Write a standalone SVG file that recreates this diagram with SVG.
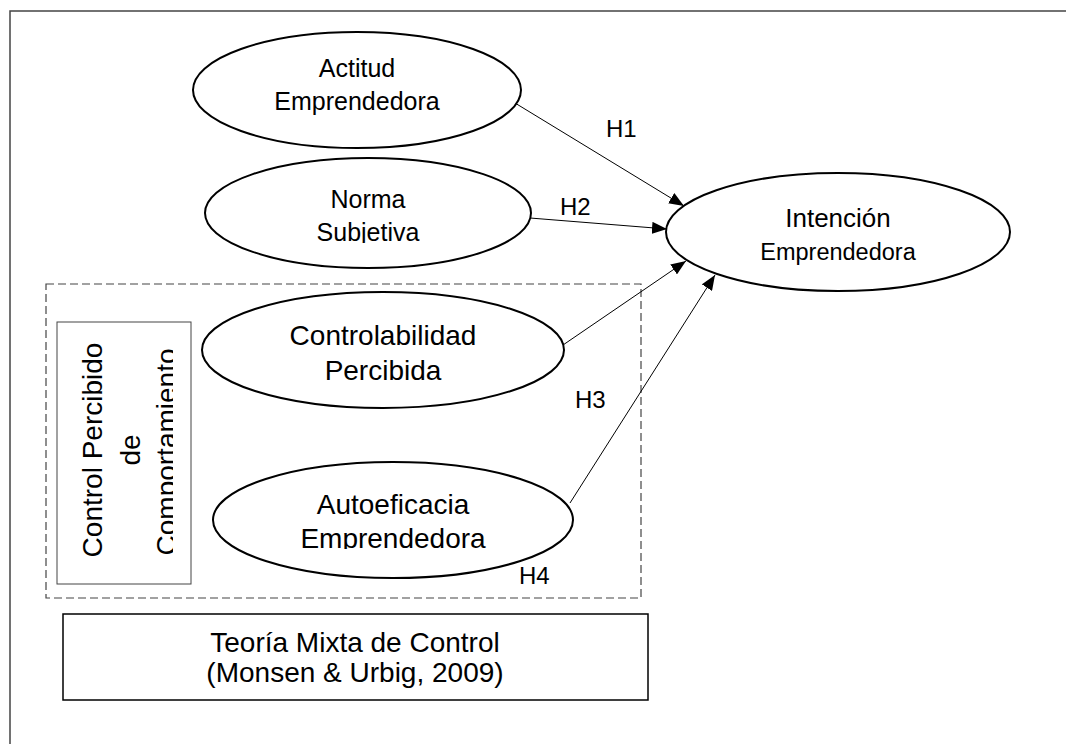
<svg xmlns="http://www.w3.org/2000/svg" width="1066" height="744" viewBox="0 0 1066 744">
<style>
text{font-family:"Liberation Sans",Arial,sans-serif;fill:#000;text-anchor:middle}
.el{fill:#fff;stroke:#000;stroke-width:2}
.cn{stroke:#000;stroke-width:1;fill:none;marker-end:url(#ah)}
.lb{font-size:24px;text-anchor:start}
</style>
<defs>
<marker id="ah" markerUnits="userSpaceOnUse" markerWidth="16" markerHeight="12" refX="15" refY="6" orient="auto"><path d="M0,0 L15,6 L0,12 z" fill="#000"/></marker>
<clipPath id="cNorma"><rect x="205" y="150" width="330" height="93"/></clipPath>
<clipPath id="cAuto"><rect x="213" y="450" width="365" height="99"/></clipPath>
<clipPath id="cCpc"><rect x="57" y="322" width="116" height="262"/></clipPath>
</defs>
<rect x="10" y="11" width="1080" height="760" fill="#fff" stroke="#444" stroke-width="1.5"/>
<rect id="grupo-control" x="46" y="284" width="595" height="314" fill="none" stroke="#444" stroke-width="1.2" stroke-dasharray="8,4"/>
<g id="connectors">
<line class="cn" x1="515" y1="103" x2="684" y2="206"/>
<line class="cn" x1="530" y1="218" x2="667" y2="229"/>
<line class="cn" x1="563" y1="345" x2="686" y2="261"/>
<line class="cn" x1="570" y1="503" x2="715" y2="275"/>
<text class="lb" x="606" y="137">H1</text>
<text class="lb" x="560" y="215">H2</text>
<text class="lb" x="575" y="408">H3</text>
<text class="lb" x="519" y="584">H4</text>
</g>
<g id="actitud">
<ellipse class="el" cx="357" cy="90" rx="164" ry="58"/>
<text x="357" y="77" font-size="25">Actitud</text>
<text x="357" y="110" font-size="25">Emprendedora</text>
</g>
<g id="norma">
<ellipse class="el" cx="368" cy="213" rx="163" ry="55"/>
<g clip-path="url(#cNorma)">
<text x="368" y="208" font-size="25">Norma</text>
<text x="368" y="241" font-size="25">Subjetiva</text>
</g>
</g>
<g id="intencion">
<ellipse class="el" cx="838" cy="232" rx="172" ry="59"/>
<text x="838" y="227" font-size="26">Intención</text>
<text x="838" y="260" font-size="23.5">Emprendedora</text>
</g>
<g id="controlabilidad">
<ellipse class="el" cx="383" cy="350" rx="181" ry="58"/>
<text x="383" y="345" font-size="28">Controlabilidad</text>
<text x="383" y="380" font-size="28">Percibida</text>
</g>
<g id="autoeficacia">
<ellipse class="el" cx="393" cy="520" rx="180" ry="58"/>
<g clip-path="url(#cAuto)">
<text x="393" y="514" font-size="28">Autoeficacia</text>
<text x="393" y="548" font-size="28">Emprendedora</text>
</g>
</g>
<g id="control-percibido">
<rect x="57" y="322" width="134" height="262" fill="#fff" stroke="#444" stroke-width="1"/>
<g clip-path="url(#cCpc)">
<text transform="translate(102,450) rotate(-90)" font-size="28">Control Percibido</text>
<text transform="translate(140,450) rotate(-90)" font-size="28">de</text>
<text transform="translate(176,452) rotate(-90)" font-size="28">Comportamiento</text>
</g>
</g>
<g id="teoria">
<rect x="63" y="614" width="585" height="86" fill="#fff" stroke="#000" stroke-width="1.5"/>
<text x="355" y="652" font-size="28">Teoría Mixta de Control</text>
<text x="355" y="682" font-size="28">(Monsen &amp; Urbig, 2009)</text>
</g>
</svg>
